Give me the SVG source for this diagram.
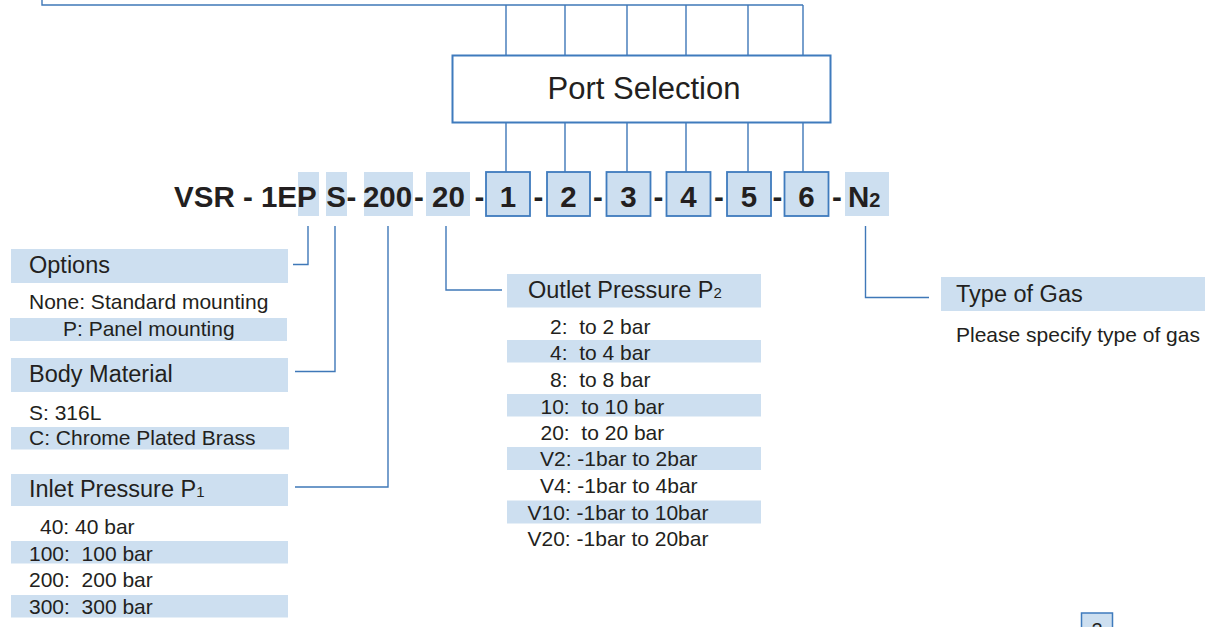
<svg xmlns="http://www.w3.org/2000/svg" width="1216" height="627" viewBox="0 0 1216 627">
<style>
text{font-family:"Liberation Sans",Arial,sans-serif;fill:#231f20}
.hdr{font-size:23.5px}
.row{font-size:21px}
.code{font-size:29.5px;font-weight:bold}
.bg{fill:#cddff0}
.box{fill:#cddff0;stroke:#3f7bbd;stroke-width:1.8}
.ln{fill:none;stroke:#3f78b8;stroke-width:1.4}
</style>
<rect width="1216" height="627" fill="#ffffff"/>

<g id="connectors">
<path class="ln" d="M42,0 V5 H803"/>
<path class="ln" d="M506,5 V55 M565,5 V55 M627,5 V55 M686,5 V55 M748,5 V55 M803,5 V55"/>
<path class="ln" d="M506,123 V172 M565,123 V172 M627,123 V172 M686,123 V172 M748,123 V172 M803,123 V172"/>
<path class="ln" d="M308,226 V264.5 H293"/>
<path class="ln" d="M335,226 V371.5 H295"/>
<path class="ln" d="M388,226 V487 H295"/>
<path class="ln" d="M446,226 V290 H502"/>
<path class="ln" d="M865.5,226 V297.5 H929"/>
</g>

<g id="port-selection">
<rect x="452.5" y="55.5" width="378" height="67" fill="#ffffff" stroke="#3f7bbd" stroke-width="2"/>
<text x="644" y="99" font-size="31" text-anchor="middle">Port Selection</text>
</g>

<g id="code">
<rect class="bg" x="298" y="172" width="21" height="44"/>
<rect class="bg" x="326" y="172" width="21" height="44"/>
<rect class="bg" x="364" y="172" width="49" height="44"/>
<rect class="bg" x="426" y="172" width="44" height="44"/>
<rect class="box" x="486" y="172" width="44" height="44"/>
<rect class="box" x="547" y="172" width="43" height="44"/>
<rect class="box" x="606.5" y="172" width="44" height="44"/>
<rect class="box" x="666.5" y="172" width="44" height="44"/>
<rect class="box" x="727" y="172" width="44" height="44"/>
<rect class="box" x="784.5" y="172" width="44" height="44"/>
<rect class="bg" x="845" y="172" width="44" height="44"/>
<text class="code" x="297" y="206.5" text-anchor="end">VSR - 1E</text>
<text class="code" x="297" y="206.5">P</text>
<text class="code" x="336" y="206.5" text-anchor="middle">S</text>
<text class="code" x="351.5" y="206.5" text-anchor="middle">-</text>
<text class="code" x="387.5" y="206.5" text-anchor="middle">200</text>
<text class="code" x="419" y="206.5" text-anchor="middle">-</text>
<text class="code" x="448.4" y="206.5" text-anchor="middle">20</text>
<text class="code" x="479.5" y="206.5" text-anchor="middle">-</text>
<text class="code" x="508" y="206.5" text-anchor="middle">1</text>
<text class="code" x="538.5" y="206.5" text-anchor="middle">-</text>
<text class="code" x="568.5" y="206.5" text-anchor="middle">2</text>
<text class="code" x="598" y="206.5" text-anchor="middle">-</text>
<text class="code" x="628.5" y="206.5" text-anchor="middle">3</text>
<text class="code" x="658.3" y="206.5" text-anchor="middle">-</text>
<text class="code" x="688.5" y="206.5" text-anchor="middle">4</text>
<text class="code" x="718.8" y="206.5" text-anchor="middle">-</text>
<text class="code" x="749" y="206.5" text-anchor="middle">5</text>
<text class="code" x="777.5" y="206.5" text-anchor="middle">-</text>
<text class="code" x="806.5" y="206.5" text-anchor="middle">6</text>
<text class="code" x="836.8" y="206.5" text-anchor="middle">-</text>
<text class="code" x="848" y="206.5">N<tspan font-size="20">2</tspan></text>
</g>

<g id="options">
<rect class="bg" x="11" y="249" width="277" height="34"/>
<text class="hdr" x="29" y="273">Options</text>
<text class="row" x="29" y="308.5">None: Standard mounting</text>
<rect class="bg" x="10" y="318" width="277" height="23"/>
<text class="row" x="63" y="336">P: Panel mounting</text>
</g>

<g id="body-material">
<rect class="bg" x="11" y="358" width="277" height="34"/>
<text class="hdr" x="29" y="382">Body Material</text>
<text class="row" x="29" y="420">S: 316L</text>
<rect class="bg" x="11" y="427" width="278" height="22.5"/>
<text class="row" x="29" y="445">C: Chrome Plated Brass</text>
</g>

<g id="inlet-pressure">
<rect class="bg" x="11" y="474" width="277" height="32"/>
<text class="hdr" x="29" y="497">Inlet Pressure P<tspan font-size="15">1</tspan></text>
<text class="row" x="40" y="534">40: 40 bar</text>
<rect class="bg" x="11" y="541" width="277" height="22.5"/>
<text class="row" x="29" y="561" xml:space="preserve">100:  100 bar</text>
<text class="row" x="29" y="587" xml:space="preserve">200:  200 bar</text>
<rect class="bg" x="11" y="595" width="277" height="22.5"/>
<text class="row" x="29" y="613.5" xml:space="preserve">300:  300 bar</text>
</g>

<g id="outlet-pressure">
<rect class="bg" x="507" y="274" width="254" height="33.5"/>
<text class="hdr" x="528" y="297.5">Outlet Pressure P<tspan font-size="15">2</tspan></text>
<text class="row" x="550" y="333.5" xml:space="preserve">2:  to 2 bar</text>
<rect class="bg" x="507" y="340" width="254" height="22.5"/>
<text class="row" x="550" y="360" xml:space="preserve">4:  to 4 bar</text>
<text class="row" x="550" y="386.5" xml:space="preserve">8:  to 8 bar</text>
<rect class="bg" x="507" y="394" width="254" height="22.5"/>
<text class="row" x="540.5" y="413.5" xml:space="preserve">10:  to 10 bar</text>
<text class="row" x="540.5" y="439.5" xml:space="preserve">20:  to 20 bar</text>
<rect class="bg" x="507" y="447" width="254" height="23"/>
<text class="row" x="540" y="466">V2: -1bar to 2bar</text>
<text class="row" x="540" y="492.5">V4: -1bar to 4bar</text>
<rect class="bg" x="507" y="500.5" width="254" height="23"/>
<text class="row" x="527.5" y="519.5">V10: -1bar to 10bar</text>
<text class="row" x="527.5" y="546">V20: -1bar to 20bar</text>
</g>

<g id="type-of-gas">
<rect class="bg" x="941" y="277" width="264" height="34"/>
<text class="hdr" x="956" y="302">Type of Gas</text>
<text class="row" x="956" y="342">Please specify type of gas</text>
</g>

<g id="page-number">
<rect x="1081.5" y="613" width="31" height="20" fill="#cddff0" stroke="#3f7bbd" stroke-width="1.5"/>
<text x="1097" y="637" font-size="20" text-anchor="middle">2</text>
</g>
</svg>
